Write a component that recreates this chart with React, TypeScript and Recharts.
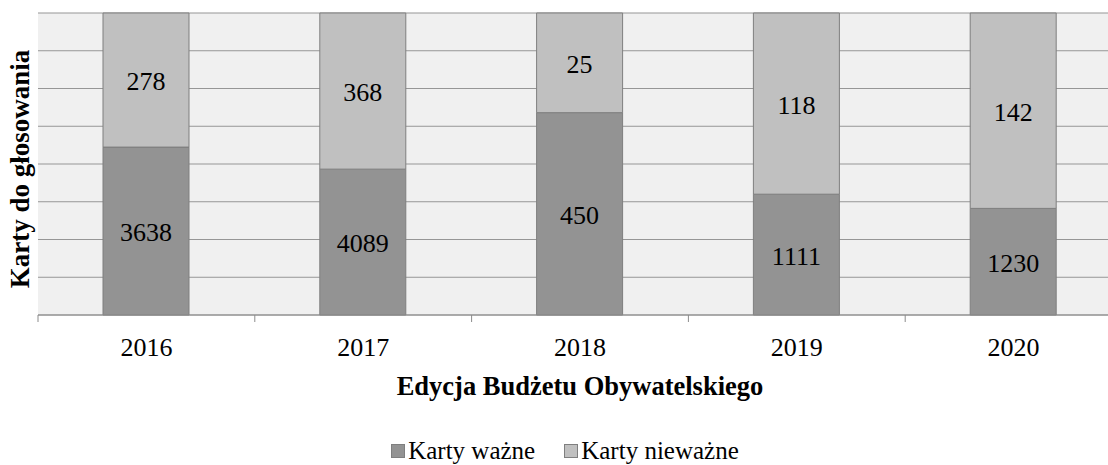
import React from "react";
import { BarChart, Bar, XAxis, YAxis, CartesianGrid, Legend, LabelList, Label } from "recharts";

const years = ["2016", "2017", "2018", "2019", "2020"];
// label values printed on the bars
const validCards = [3638, 4089, 450, 1111, 1230];
const invalidCards = [278, 368, 25, 118, 142];
// segment heights as drawn (share of the bar, %)
const validShare = [55.6, 48.3, 67.0, 40.0, 35.3];
const invalidShare = [44.4, 51.7, 33.0, 60.0, 64.7];
const yTicks = [0, 12.5, 25, 37.5, 50, 62.5, 75, 87.5, 100];

const seriesNames = ["Karty ważne", "Karty nieważne"];
const xTitle = "Edycja Budżetu Obywatelskiego";
const yTitle = "Karty do głosowania";

const data = years.map((y, i) => ({
  year: y,
  validShare: validShare[i],
  invalidShare: invalidShare[i],
  valid: validCards[i],
  invalid: invalidCards[i],
}));

const FONT = "Liberation Serif";
const DARK = "#939393";
const LIGHT = "#c0c0c0";
const EDGE = "#7f7f7f";

const Tick = (props: any) => {
  const { x, y, payload } = props;
  const off = payload && payload.offset ? payload.offset : 108;
  return (
    <g>
      <line x1={x - off} x2={x - off} y1={y - 7} y2={y} stroke="#8c8c8c" strokeWidth={1} />
      <text x={x} y={y + 34} textAnchor="middle" fontSize={26} fontFamily={FONT} style={{ fontFamily: FONT }} fill="#000">
        {payload.value}
      </text>
    </g>
  );
};

const BarLabel = (props: any) => {
  const { x, y, width, height, value } = props;
  return (
    <text
      x={x + width / 2}
      y={y + height / 2 + 10}
      textAnchor="middle"
      fontSize={26}
      fontFamily={FONT}
      style={{ fontFamily: FONT }}
      fill="#000"
    >
      {value}
    </text>
  );
};

const LegendContent = () => (
  <div
    style={{
      display: "flex",
      justifyContent: "center",
      paddingTop: 25,
      paddingRight: 30,
      fontFamily: FONT,
      fontSize: 25,
      color: "#000",
      lineHeight: "22px",
      height: 22,
    }}
  >
    {seriesNames.map((n, i) => (
      <div key={n} style={{ display: "flex", alignItems: "center", marginRight: i === 0 ? 29 : 0 }}>
        <span
          style={{
            display: "inline-block",
            width: 12,
            height: 12,
            background: i === 0 ? DARK : LIGHT,
            border: `1px solid ${EDGE}`,
            marginRight: 3,
          }}
        />
        <span style={{ fontFamily: FONT }}>{n}</span>
      </div>
    ))}
  </div>
);

const gridRows = (p: any) => {
  const ax = p && p.yAxis;
  if (ax && typeof ax.scale === "function") return yTicks.map((t) => ax.scale(t));
  const off = p.offset || {};
  const top = off.top ?? 13;
  const h = off.height ?? 302;
  const maxT = yTicks[yTicks.length - 1];
  return yTicks.map((t) => top + h * (1 - t / maxT));
};

export default function App() {
  return (
    <div style={{ position: "absolute", left: 0, top: 0, width: 1108, height: 465, overflow: "hidden", background: "#fff", fontFamily: FONT }}>
      <BarChart
        width={1130}
        height={465}
        data={data}
        margin={{ top: 13, left: 38, right: 8, bottom: 0 }}
        barSize={86}
        style={{ fontFamily: FONT }}
      >
        <CartesianGrid vertical={false} stroke="#969696" strokeWidth={1.2} fill="#f0f0f0" horizontalCoordinatesGenerator={gridRows} />
        <YAxis width={0} domain={[0, 100]} ticks={yTicks} tick={false} axisLine={false} tickLine={false} />
        <XAxis
          dataKey="year"
          height={100}
          tickSize={7}
          tickMargin={0}
          tickLine={false}
          axisLine={{ stroke: "#8c8c8c" }}
          tick={<Tick />}
          interval={0}
        >
          <Label
            content={(p: any) => {
              const vb = p.viewBox || { x: 38, y: 315, width: 1084 };
              return (
                <text
                  x={vb.x + vb.width / 2}
                  y={vb.y + 80}
                  textAnchor="middle"
                  fontSize={26.5}
                  fontWeight="bold"
                  fontFamily={FONT}
                  style={{ fontFamily: FONT }}
                  fill="#000"
                >
                  {xTitle}
                </text>
              );
            }}
          />
        </XAxis>
        <Legend verticalAlign="bottom" height={50} content={<LegendContent />} />
        <Bar dataKey="validShare" stackId="a" name={seriesNames[0]} fill={DARK} stroke={EDGE} strokeWidth={1} isAnimationActive={false}>
          <LabelList dataKey="valid" content={<BarLabel />} />
        </Bar>
        <Bar dataKey="invalidShare" stackId="a" name={seriesNames[1]} fill={LIGHT} stroke={EDGE} strokeWidth={1} isAnimationActive={false}>
          <LabelList dataKey="invalid" content={<BarLabel />} />
        </Bar>
      </BarChart>
      <div
        style={{
          position: "absolute",
          left: 20 - 150,
          top: 169 - 15,
          width: 300,
          height: 30,
          lineHeight: "30px",
          textAlign: "center",
          transform: "rotate(-90deg)",
          transformOrigin: "150px 15px",
          fontFamily: FONT,
          fontWeight: "bold",
          fontSize: 27,
          color: "#000",
          whiteSpace: "nowrap",
        }}
      >
        {yTitle}
      </div>
    </div>
  );
}
